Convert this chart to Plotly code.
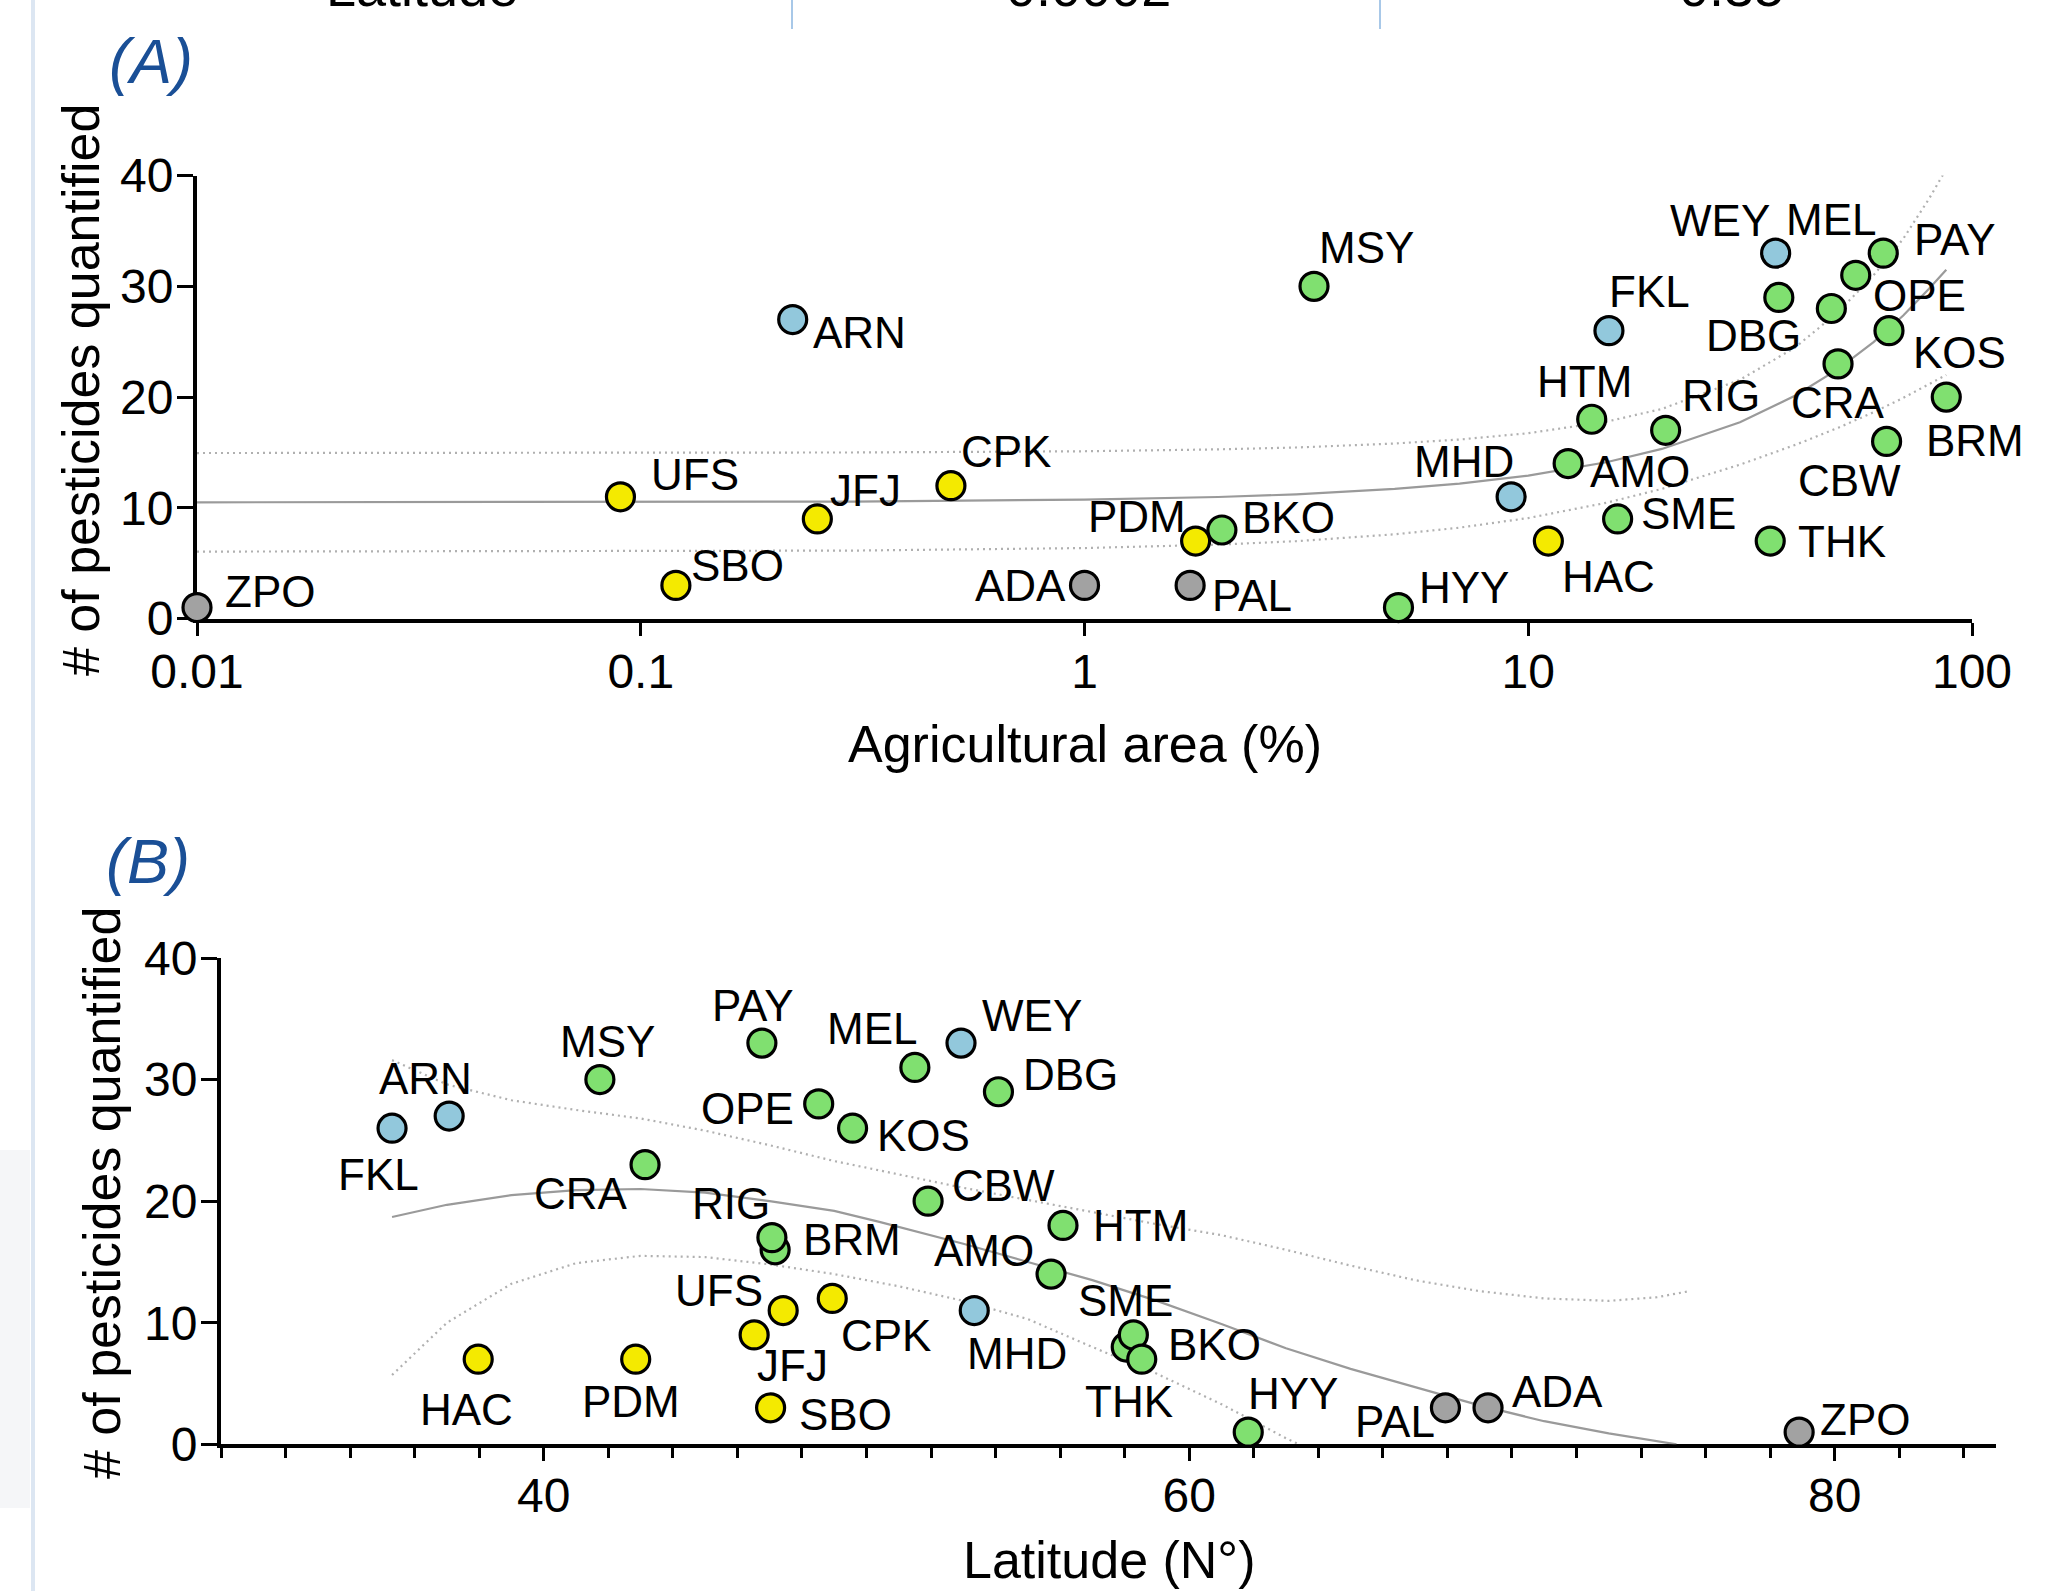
import numpy as np
import plotly.graph_objects as go

W, H = 2055, 1591
FONT = "Liberation Sans, Arial, Helvetica, sans-serif"

# ---------------- Panel A: agricultural area vs number of pesticides ----------------
sites_a = ["ZPO", "SBO", "UFS", "JFJ", "CPK", "ARN", "ADA", "PAL", "BKO", "PDM",
           "MSY", "HYY", "MHD", "HAC", "AMO", "HTM", "SME", "FKL", "RIG", "WEY",
           "DBG", "THK", "CRA", "OPE", "MEL", "PAY", "KOS", "CBW", "BRM"]
agri_area = [0.01, 0.12, 0.09, 0.25, 0.5, 0.22, 1.0, 1.73, 2.04, 1.78,
             3.29, 5.1, 9.15, 11.1, 12.3, 13.9, 15.9, 15.2, 20.4, 36.1,
             36.7, 35.1, 49.9, 48.2, 54.7, 63.1, 65.0, 64.2, 87.5]
n_pest_a = [1, 3, 11, 9, 12, 27, 3, 3, 8, 7,
            30, 1, 11, 7, 14, 18, 9, 26, 17, 33,
            29, 7, 23, 28, 31, 33, 26, 16, 20]
group_a = ["gray", "yellow", "yellow", "yellow", "yellow", "blue", "gray", "gray", "green", "yellow",
           "green", "green", "blue", "yellow", "green", "green", "green", "blue", "green", "blue",
           "green", "green", "green", "green", "green", "green", "green", "green", "green"]

fit_a_x = [0.01, 0.03, 0.1, 0.3, 1, 2, 3, 5, 7, 10, 15, 20, 30, 40, 50, 60, 70, 80, 87.5]
fit_a_y = [10.5, 10.51, 10.52, 10.57, 10.74, 10.98, 11.22, 11.71, 12.19, 12.91,
           14.12, 15.32, 17.73, 20.14, 22.55, 24.96, 27.37, 29.78, 31.5]
fit_a_hi = [14.95, 14.96, 14.96, 15.0, 15.11, 15.28, 15.45, 15.81, 16.17, 16.74,
            17.78, 18.93, 21.56, 24.5, 27.7, 31.0, 34.3, 37.9, 40.6]
fit_a_lo = [6.05, 6.06, 6.08, 6.14, 6.37, 6.68, 6.99, 7.61, 8.21, 9.08,
            10.46, 11.71, 13.9, 15.69, 17.24, 18.63, 19.93, 21.18, 22.0]

xticks_a = [0.01, 0.1, 1, 10, 100]
xticktext_a = ["0.01", "0.1", "1", "10", "100"]
yticks = [0, 10, 20, 30, 40]

# ---------------- Panel B: latitude vs number of pesticides ----------------
sites_b = ["FKL", "ARN", "HAC", "MSY", "PDM", "CRA", "PAY", "BRM", "RIG", "UFS",
           "JFJ", "SBO", "CPK", "OPE", "KOS", "MEL", "CBW", "WEY", "DBG", "MHD",
           "AMO", "HTM", "BKO", "SME", "THK", "HYY", "PAL", "ADA", "ZPO"]
latitude = [35.3, 37.07, 37.97, 41.74, 42.85, 43.14, 46.76, 47.17, 47.07, 47.42,
            46.52, 47.03, 48.94, 48.52, 49.57, 51.5, 51.91, 52.93, 54.09, 53.34,
            55.72, 56.09, 58.05, 58.27, 58.53, 61.83, 67.94, 69.26, 78.9]
n_pest_b = [26, 27, 7, 30, 7, 23, 33, 16, 17, 11,
            9, 3, 12, 28, 26, 31, 20, 33, 29, 11,
            14, 18, 8, 9, 7, 1, 3, 3, 1]
group_b = ["blue", "blue", "yellow", "green", "yellow", "green", "green", "green", "green", "yellow",
           "yellow", "yellow", "yellow", "green", "green", "green", "green", "blue", "green", "blue",
           "green", "green", "green", "green", "green", "green", "gray", "gray", "gray"]

fit_b_x = [35.3, 37, 39, 41, 43, 45, 47, 49, 50.4, 53, 55, 57, 59, 61, 63, 65, 67, 69, 71, 73, 75.1]
fit_b_y = [18.7, 19.7, 20.5, 20.9, 21.0, 20.7, 20.0, 19.2, 18.3, 16.5, 15.0, 13.5, 11.8, 9.9,
           7.9, 6.2, 4.7, 3.2, 1.9, 0.9, 0.0]
band_b_hi_x = [35.3, 37, 39, 41, 43, 45, 47, 49, 51, 53, 55, 57, 59, 61, 63, 65, 67, 69, 71, 73, 74.5, 75.5]
band_b_hi = [31.6, 29.6, 28.3, 27.5, 26.8, 25.8, 24.6, 23.3, 22.2, 21.1, 20.1, 19.1, 18.1, 17.2,
             16.0, 14.7, 13.5, 12.6, 12.0, 11.8, 12.1, 12.6]
band_b_lo_x = [35.3, 37, 39, 41, 43, 45, 47, 49, 51, 53, 55, 57, 59, 61, 63, 63.4]
band_b_lo = [5.7, 10.0, 13.2, 14.9, 15.5, 15.4, 14.8, 14.0, 13.0, 11.8, 10.3, 8.0, 5.8, 3.3, 0.5, 0.0]

# ---------------- styles ----------------
COLORS = {"green": "#80e070", "yellow": "#f4ea00", "blue": "#92c8dc", "gray": "#a2a2a2"}

# label offsets (px, dx right, dy down) relative to marker centre
label_off_a = {
    "ZPO": (73, -16), "SBO": (62, -20), "UFS": (75, -22), "JFJ": (48, -28), "CPK": (55, -34),
    "ARN": (67, 13), "ADA": (-64, 0), "PAL": (62, 10), "PDM": (-59, -25), "BKO": (67, -13),
    "MSY": (52, -39), "HYY": (66, -20), "MHD": (-47, -35), "HAC": (60, 35), "AMO": (72, 8),
    "HTM": (-7, -38), "SME": (71, -5), "FKL": (41, -39), "RIG": (55, -35), "WEY": (-56, -33),
    "MEL": (-25, -56), "PAY": (72, -14), "OPE": (88, -13), "DBG": (-25, 38), "KOS": (71, 22),
    "CRA": (0, 39), "CBW": (-37, 39), "BRM": (29, 43), "THK": (72, 0),
}
label_off_b = {
    "FKL": (-14, 46), "ARN": (-24, -38), "HAC": (-12, 50), "MSY": (8, -38), "PDM": (-5, 42),
    "CRA": (-64, 29), "PAY": (-9, -38), "RIG": (-41, -34), "BRM": (77, -10), "UFS": (-64, -20),
    "JFJ": (38, 31), "SBO": (75, 7), "CPK": (54, 37), "OPE": (-71, 5), "KOS": (71, 7),
    "MEL": (-43, -39), "CBW": (75, -16), "WEY": (71, -28), "DBG": (72, -17), "MHD": (43, 43),
    "AMO": (-67, -24), "HTM": (77, 0), "SME": (-8, -34), "BKO": (88, -3), "THK": (-13, 42),
    "HYY": (45, -39), "PAL": (-50, 14), "ADA": (69, -16), "ZPO": (66, -13),
}


def px_x(p):
    return p / W


def px_y(p):
    return 1 - p / H


fig = go.Figure()

line_solid = dict(color="#9a9a9a", width=2.2)
line_dot = dict(color="#b0b0b0", width=2.2, dash="2px,4px")

# Panel A fit + bands
fig.add_trace(go.Scatter(x=fit_a_x, y=fit_a_hi, mode="lines", line=line_dot, xaxis="x", yaxis="y"))
fig.add_trace(go.Scatter(x=fit_a_x, y=fit_a_lo, mode="lines", line=line_dot, xaxis="x", yaxis="y"))
fig.add_trace(go.Scatter(x=fit_a_x, y=fit_a_y, mode="lines", line=line_solid, xaxis="x", yaxis="y"))
fig.add_trace(go.Scatter(
    x=agri_area, y=n_pest_a, mode="markers", xaxis="x", yaxis="y", cliponaxis=False,
    marker=dict(size=28, color=[COLORS[g] for g in group_a], line=dict(color="black", width=3.2)),
    text=sites_a))

# Panel B fit + bands
fig.add_trace(go.Scatter(x=band_b_hi_x, y=band_b_hi, mode="lines", line=line_dot, xaxis="x2", yaxis="y2"))
fig.add_trace(go.Scatter(x=band_b_lo_x, y=band_b_lo, mode="lines", line=line_dot, xaxis="x2", yaxis="y2"))
fig.add_trace(go.Scatter(x=fit_b_x, y=fit_b_y, mode="lines", line=line_solid, xaxis="x2", yaxis="y2"))
fig.add_trace(go.Scatter(
    x=latitude, y=n_pest_b, mode="markers", xaxis="x2", yaxis="y2", cliponaxis=False,
    marker=dict(size=28, color=[COLORS[g] for g in group_b], line=dict(color="black", width=3.2)),
    text=sites_b))

annotations = []
for s, xv, yv in zip(sites_a, agri_area, n_pest_a):
    dx, dy = label_off_a[s]
    annotations.append(dict(text=s, x=float(np.log10(xv)), y=yv, xref="x", yref="y",
                            showarrow=False, xshift=dx, yshift=-dy, xanchor="center", yanchor="middle",
                            font=dict(size=44, color="black", family=FONT)))
for s, xv, yv in zip(sites_b, latitude, n_pest_b):
    dx, dy = label_off_b[s]
    annotations.append(dict(text=s, x=xv, y=yv, xref="x2", yref="y2",
                            showarrow=False, xshift=dx, yshift=-dy, xanchor="center", yanchor="middle",
                            font=dict(size=44, color="black", family=FONT)))

title_font = dict(size=52, color="black", family=FONT)
# axis titles
annotations += [
    dict(text="Agricultural area (%)", x=px_x(1085), y=px_y(744), xref="paper", yref="paper",
         showarrow=False, xanchor="center", yanchor="middle", font=title_font),
    dict(text="# of pesticides quantified", x=px_x(81), y=px_y(390), xref="paper", yref="paper",
         showarrow=False, xanchor="center", yanchor="middle", textangle=-90, font=title_font),
    dict(text="Latitude (N°)", x=px_x(1109), y=px_y(1560), xref="paper", yref="paper",
         showarrow=False, xanchor="center", yanchor="middle", font=title_font),
    dict(text="# of pesticides quantified", x=px_x(102), y=px_y(1193), xref="paper", yref="paper",
         showarrow=False, xanchor="center", yanchor="middle", textangle=-90, font=title_font),
]
# panel letters
panel_font = dict(size=63, color="#1a4f96", family=FONT)
annotations += [
    dict(text="<i>(A)</i>", x=px_x(151), y=px_y(61), xref="paper", yref="paper",
         showarrow=False, xanchor="center", yanchor="middle", font=panel_font),
    dict(text="<i>(B)</i>", x=px_x(148), y=px_y(861), xref="paper", yref="paper",
         showarrow=False, xanchor="center", yanchor="middle", font=panel_font),
]
# cut-off table row at the very top
top_font = dict(size=54, color="black", family=FONT)
for txt, cx in [("Latitude", 422), ("0.0002", 1088), ("0.35", 1731)]:
    annotations.append(dict(text=txt, x=px_x(cx), y=px_y(19), xref="paper", yref="paper",
                            showarrow=False, xanchor="center", yanchor="bottom", font=top_font))

shapes = [
    dict(type="rect", xref="paper", yref="paper", x0=0, x1=px_x(30), y0=px_y(1508), y1=px_y(1150),
         fillcolor="#f5f6f8", line=dict(width=0), layer="below"),
    dict(type="line", xref="paper", yref="paper", x0=px_x(33), x1=px_x(33), y0=0, y1=1,
         line=dict(color="#dce6f2", width=4)),
    dict(type="line", xref="paper", yref="paper", x0=px_x(792), x1=px_x(792), y0=px_y(29), y1=1,
         line=dict(color="#a8c8e8", width=2)),
    dict(type="line", xref="paper", yref="paper", x0=px_x(1380), x1=px_x(1380), y0=px_y(29), y1=1,
         line=dict(color="#a8c8e8", width=2)),
]

axis_common = dict(showline=True, linecolor="black", linewidth=4, showgrid=False, zeroline=False,
                   ticks="outside", tickcolor="black", tickwidth=3, layer="below traces",
                   automargin=False,
                   tickfont=dict(size=48, color="black", family=FONT))

fig.update_layout(
    width=W, height=H, margin=dict(l=0, r=0, t=0, b=0, pad=0, autoexpand=False),
    paper_bgcolor="white", plot_bgcolor="rgba(0,0,0,0)", showlegend=False,
    font=dict(family=FONT, color="black"),
    xaxis=dict(**axis_common, type="log", range=[-2, 2], domain=[px_x(197), px_x(1972)],
               anchor="y", tickvals=xticks_a, ticktext=xticktext_a, ticklen=13, ticklabelstandoff=-5),
    yaxis=dict(**axis_common, range=[0, 40], domain=[px_y(618.6), px_y(175.6)], anchor="x",
               tickvals=yticks, ticklen=16, ticklabelstandoff=-6),
    xaxis2=dict(**axis_common, range=[30, 85], domain=[px_x(221), px_x(1996)], anchor="y2",
                tick0=0, dtick=20, ticklen=13, ticklabelstandoff=-7,
                minor=dict(dtick=2, tick0=0, ticks="outside", ticklen=10, tickwidth=3, tickcolor="black")),
    yaxis2=dict(**axis_common, range=[0, 40], domain=[px_y(1444.3), px_y(958)], anchor="x2",
                tickvals=yticks, ticklen=16, ticklabelstandoff=-6),
    annotations=annotations,
    shapes=shapes,
)

fig.write_html("out.html",
               config={"displayModeBar": False},
               post_script="document.body.style.margin='0px';document.body.style.padding='0px';")
